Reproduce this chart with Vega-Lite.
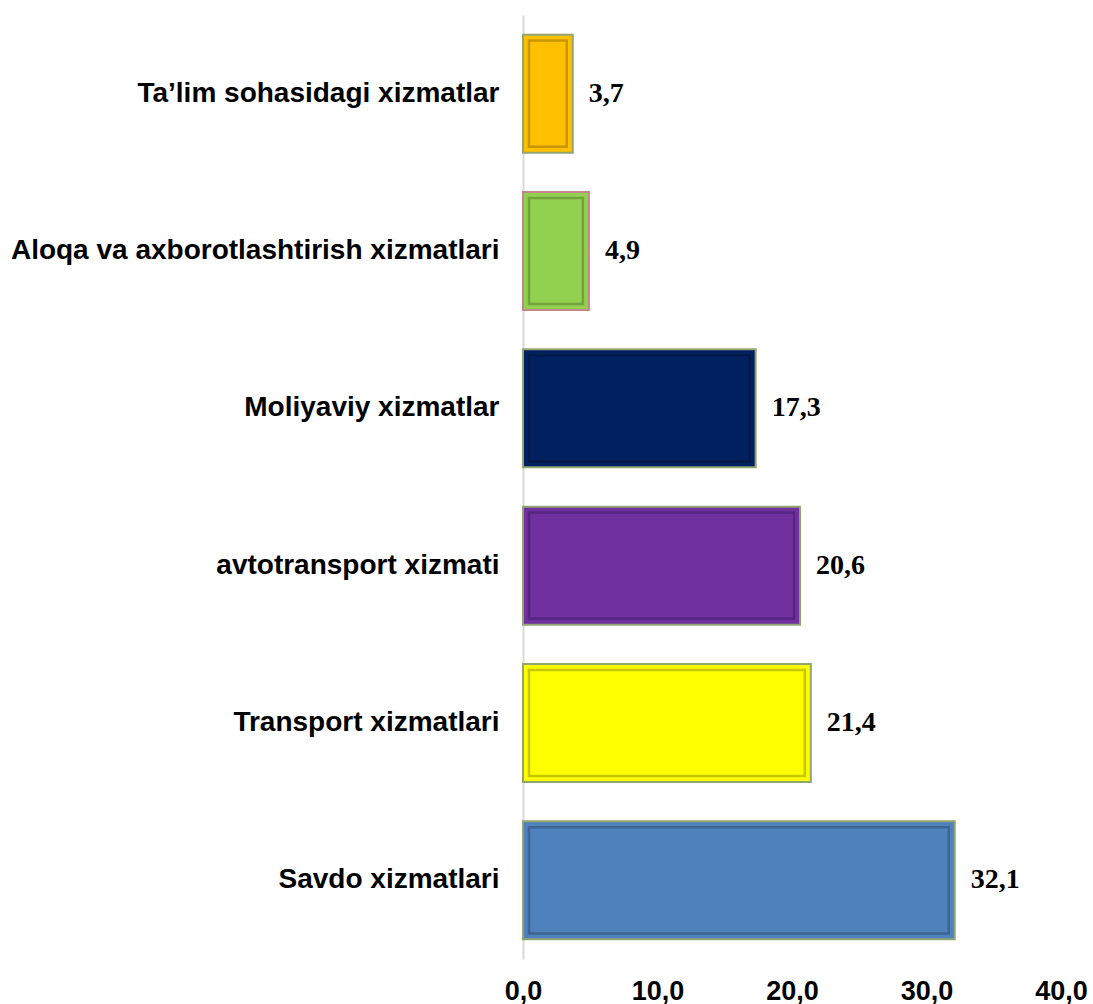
{
  "$schema": "https://vega.github.io/schema/vega-lite/v6.json",
  "autosize": "none",
  "width": 538,
  "height": 944,
  "padding": {"left": 523, "top": 15, "right": 32, "bottom": 45},
  "background": "white",
  "data": {
    "values": [
      {"category": "Ta’lim sohasidagi xizmatlar", "value": 3.7},
      {"category": "Aloqa va axborotlashtirish xizmatlari", "value": 4.9},
      {"category": "Moliyaviy xizmatlar", "value": 17.3},
      {"category": "avtotransport xizmati", "value": 20.6},
      {"category": "Transport xizmatlari", "value": 21.4},
      {"category": "Savdo xizmatlari", "value": 32.1}
    ]
  },
  "encoding": {
    "y": {
      "field": "category",
      "type": "nominal",
      "sort": null,
      "scale": {"paddingInner": 0.25, "paddingOuter": 0.125},
      "axis": {
        "title": null,
        "orient": "left",
        "domain": true,
        "domainColor": "#d9d9d9",
        "domainWidth": 2,
        "ticks": false,
        "grid": false,
        "labelFont": "Liberation Sans",
        "labelFontWeight": "bold",
        "labelFontSize": 28,
        "labelColor": "#000000",
        "labelPadding": 24,
        "labelLimit": 700
      }
    },
    "x": {
      "field": "value",
      "type": "quantitative",
      "stack": null,
      "scale": {"domain": [0, 40], "nice": false},
      "axis": {
        "title": null,
        "orient": "bottom",
        "values": [0, 10, 20, 30, 40],
        "format": ".1f",
        "domain": false,
        "ticks": false,
        "grid": false,
        "labelFlush": false,
        "labelFont": "Liberation Sans",
        "labelFontWeight": "bold",
        "labelFontSize": 27,
        "labelColor": "#000000",
        "labelPadding": 19
      }
    }
  },
  "layer": [
    {
      "mark": {"type": "bar", "strokeWidth": 2},
      "encoding": {
        "color": {
          "field": "category",
          "type": "nominal",
          "legend": null,
          "scale": {
            "domain": ["Ta’lim sohasidagi xizmatlar", "Aloqa va axborotlashtirish xizmatlari", "Moliyaviy xizmatlar", "avtotransport xizmati", "Transport xizmatlari", "Savdo xizmatlari"],
            "range": ["#FFC000", "#92D050", "#002060", "#7030A0", "#FFFF00", "#4F81BD"]
          }
        },
        "stroke": {
          "field": "category",
          "type": "nominal",
          "legend": null,
          "scale": {
            "domain": ["Ta’lim sohasidagi xizmatlar", "Aloqa va axborotlashtirish xizmatlari", "Moliyaviy xizmatlar", "avtotransport xizmati", "Transport xizmatlari", "Savdo xizmatlari"],
            "range": ["#93a56e", "#c4868a", "#93a56e", "#93a56e", "#93a56e", "#93a56e"]
          }
        }
      }
    },
    {
      "mark": {
        "type": "bar",
        "fill": null,
        "fillOpacity": 0,
        "stroke": "#000000",
        "strokeOpacity": 0.22,
        "strokeWidth": 2.5,
        "height": {"band": 0.9},
        "xOffset": -6,
        "x2Offset": 6
      },
      "encoding": {
        "x2": {"datum": 0}
      }
    },
    {
      "mark": {
        "type": "text",
        "align": "left",
        "baseline": "middle",
        "dx": 16,
        "font": "Liberation Serif",
        "fontWeight": "bold",
        "fontSize": 28,
        "color": "#000000"
      },
      "encoding": {
        "text": {"field": "value", "type": "quantitative", "format": ".1f"}
      }
    }
  ],
  "config": {
    "view": {"stroke": null},
    "locale": {
      "number": {"decimal": ",", "thousands": " ", "grouping": [3], "currency": ["", ""]}
    }
  }
}
